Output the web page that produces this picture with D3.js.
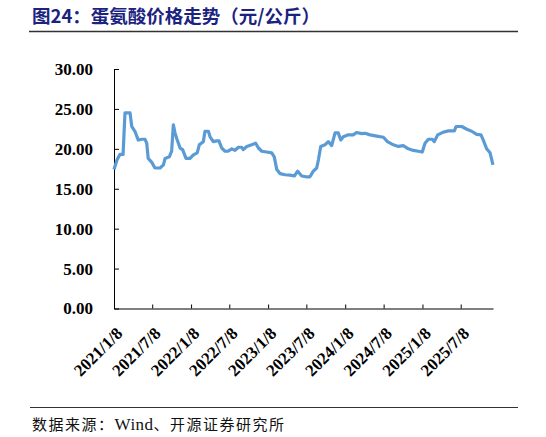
<!DOCTYPE html>
<html>
<head>
<meta charset="utf-8">
<script src="https://cdn.jsdelivr.net/npm/d3@7"></script>
<style>
  html, body { margin: 0; padding: 0; background: #fff; }
  svg { display: block; }
</style>
</head>
<body>
<svg id="chart" width="546" height="437"></svg>
<script>
// methionine price, yuan/kg
const dates = [
  "2021-01-08","2021-01-22","2021-02-05","2021-02-20","2021-03-01","2021-03-25","2021-04-02","2021-04-17",
  "2021-05-03","2021-05-21","2021-06-04","2021-06-12","2021-06-19","2021-07-06","2021-07-21","2021-08-14",
  "2021-08-30","2021-09-07","2021-09-27","2021-10-08","2021-10-16","2021-10-24","2021-11-01","2021-11-17",
  "2021-11-29","2021-12-15","2022-01-03","2022-01-19","2022-02-06","2022-02-16","2022-03-07","2022-03-15",
  "2022-03-31","2022-04-08","2022-04-23","2022-05-09","2022-05-20","2022-06-02","2022-06-18","2022-07-02",
  "2022-07-20","2022-08-04","2022-08-20","2022-09-05","2022-09-12","2022-09-29","2022-10-22","2022-11-10",
  "2022-11-23","2022-12-09","2023-01-01","2023-01-25","2023-02-06","2023-02-18","2023-03-05","2023-03-29",
  "2023-04-22","2023-05-12","2023-05-28","2023-06-16","2023-07-06","2023-07-25","2023-08-10","2023-08-26",
  "2023-09-03","2023-09-14","2023-10-04","2023-10-20","2023-11-05","2023-11-21","2023-12-06","2023-12-18",
  "2023-12-30","2024-01-23","2024-02-15","2024-03-02","2024-03-26","2024-04-11","2024-05-05","2024-06-05",
  "2024-07-07","2024-07-26","2024-08-23","2024-09-16","2024-10-09","2024-11-02","2024-11-26","2024-12-19",
  "2025-01-07","2025-01-20","2025-02-05","2025-02-24","2025-03-05","2025-03-21","2025-04-17","2025-05-11",
  "2025-06-08","2025-06-16","2025-07-13","2025-08-06","2025-08-29","2025-09-22","2025-10-12","2025-10-23",
  "2025-11-08","2025-11-24","2025-12-08"
];
const prices = [
  17.4, 18.6, 19.3, 19.3, 24.5, 24.5, 22.8, 22.2,
  21.1, 21.2, 21.2, 20.7, 18.8, 18.3, 17.6, 17.6,
  18.0, 18.8, 19.0, 19.7, 23.0, 22.0, 21.3, 20.1,
  19.9, 18.8, 18.8, 19.25, 19.5, 20.5, 20.9, 22.2,
  22.2, 21.5, 20.9, 21.0, 21.0, 20.1, 19.7, 19.7,
  20.0, 19.8, 20.2, 20.2, 19.9, 20.3, 20.5, 20.7,
  20.1, 19.7, 19.6, 19.5, 19.0, 17.4, 16.9, 16.75,
  16.7, 16.6, 17.2, 16.6, 16.5, 16.5, 17.2, 17.6,
  18.6, 20.3, 20.5, 20.9, 20.4, 22.0, 22.0, 21.1,
  21.5, 21.75, 21.75, 22.05, 21.9, 21.95, 21.75, 21.6,
  21.45, 20.9, 20.5, 20.3, 20.4, 20.0, 19.8, 19.7,
  19.6, 20.7, 21.2, 21.2, 20.9, 21.75, 22.1, 22.25,
  22.25, 22.8, 22.8, 22.45, 22.2, 21.8, 21.75, 21.1,
  20.0, 19.5, 18.0
];
const xTickLabels = ["2021/1/8","2021/7/8","2022/1/8","2022/7/8","2023/1/8","2023/7/8","2024/1/8","2024/7/8","2025/1/8","2025/7/8"];
const yTicks = [0, 5, 10, 15, 20, 25, 30];

const parse = d3.timeParse("%Y-%m-%d");
const parseTick = d3.timeParse("%Y/%m/%d");
const data = dates.map((d, i) => ({ date: parse(d), value: prices[i] }));

const svg = d3.select("#chart");
const serif = "'Liberation Serif', 'Times New Roman', serif";
const cjk = "'Noto Sans CJK SC', 'Noto Sans', sans-serif";

// title + rule
svg.append("text")
    .attr("x", 32)
    .attr("y", 23)
    .style("font-family", cjk)
    .style("font-weight", "bold")
    .style("font-size", "18.5px")
    .style("fill", "#1b237f")
    .text("图24：蛋氨酸价格走势（元/公斤）");

svg.append("line")
    .attr("x1", 29).attr("x2", 518)
    .attr("y1", 31.5).attr("y2", 31.5)
    .style("stroke", "#333").style("stroke-width", 1.5);

const x = d3.scaleTime()
    .domain([parse("2021-01-08"), parse("2025-12-08")])
    .range([114, 493]);

const y = d3.scaleLinear()
    .domain([0, 30])
    .range([308.5, 69]);

// y axis, ticks pointing inside
const yAxis = svg.append("g")
    .attr("transform", "translate(114,0)")
    .call(d3.axisLeft(y).tickValues(yTicks).tickSize(-5).tickSizeOuter(0)
        .tickPadding(21).tickFormat(d3.format(".2f")));
yAxis.selectAll("text")
    .style("font-family", serif)
    .style("font-weight", "bold")
    .style("font-size", "17px")
    .style("fill", "#000");

// x axis
const xAxis = svg.append("g")
    .attr("transform", "translate(0,308.5)")
    .call(d3.axisBottom(x).tickValues(xTickLabels.map(parseTick)).tickSize(-4).tickSizeOuter(0)
        .tickFormat((d, i) => xTickLabels[i]));
xAxis.selectAll("text")
    .attr("x", 0).attr("y", 0).attr("dy", 0)
    .attr("text-anchor", "end")
    .attr("transform", "translate(9,26) rotate(-45)")
    .style("font-family", serif)
    .style("font-weight", "bold")
    .style("font-size", "17px")
    .style("fill", "#000");

svg.selectAll(".domain, .tick line").style("stroke", "#000").style("stroke-width", 1);

// price line
const line = d3.line()
    .x(d => x(d.date))
    .y(d => y(d.value));

svg.append("path")
    .datum(data)
    .attr("d", line)
    .attr("fill", "none")
    .attr("stroke", "#5b9bd5")
    .attr("stroke-width", 3.2)
    .attr("stroke-linejoin", "round");

// source
svg.append("line")
    .attr("x1", 30).attr("x2", 518)
    .attr("y1", 407.5).attr("y2", 407.5)
    .style("stroke", "#333").style("stroke-width", 1.2);

const src = svg.append("text")
    .attr("x", 32)
    .attr("y", 430)
    .style("font-family", cjk)
    .style("font-size", "15px")
    .style("letter-spacing", "1.5px")
    .style("fill", "#111");
src.append("tspan").text("数据来源：");
src.append("tspan").style("font-family", serif).style("font-size", "17px").style("letter-spacing", "0.5px").text("Wind");
src.append("tspan").text("、开源证券研究所");
</script>
</body>
</html>
